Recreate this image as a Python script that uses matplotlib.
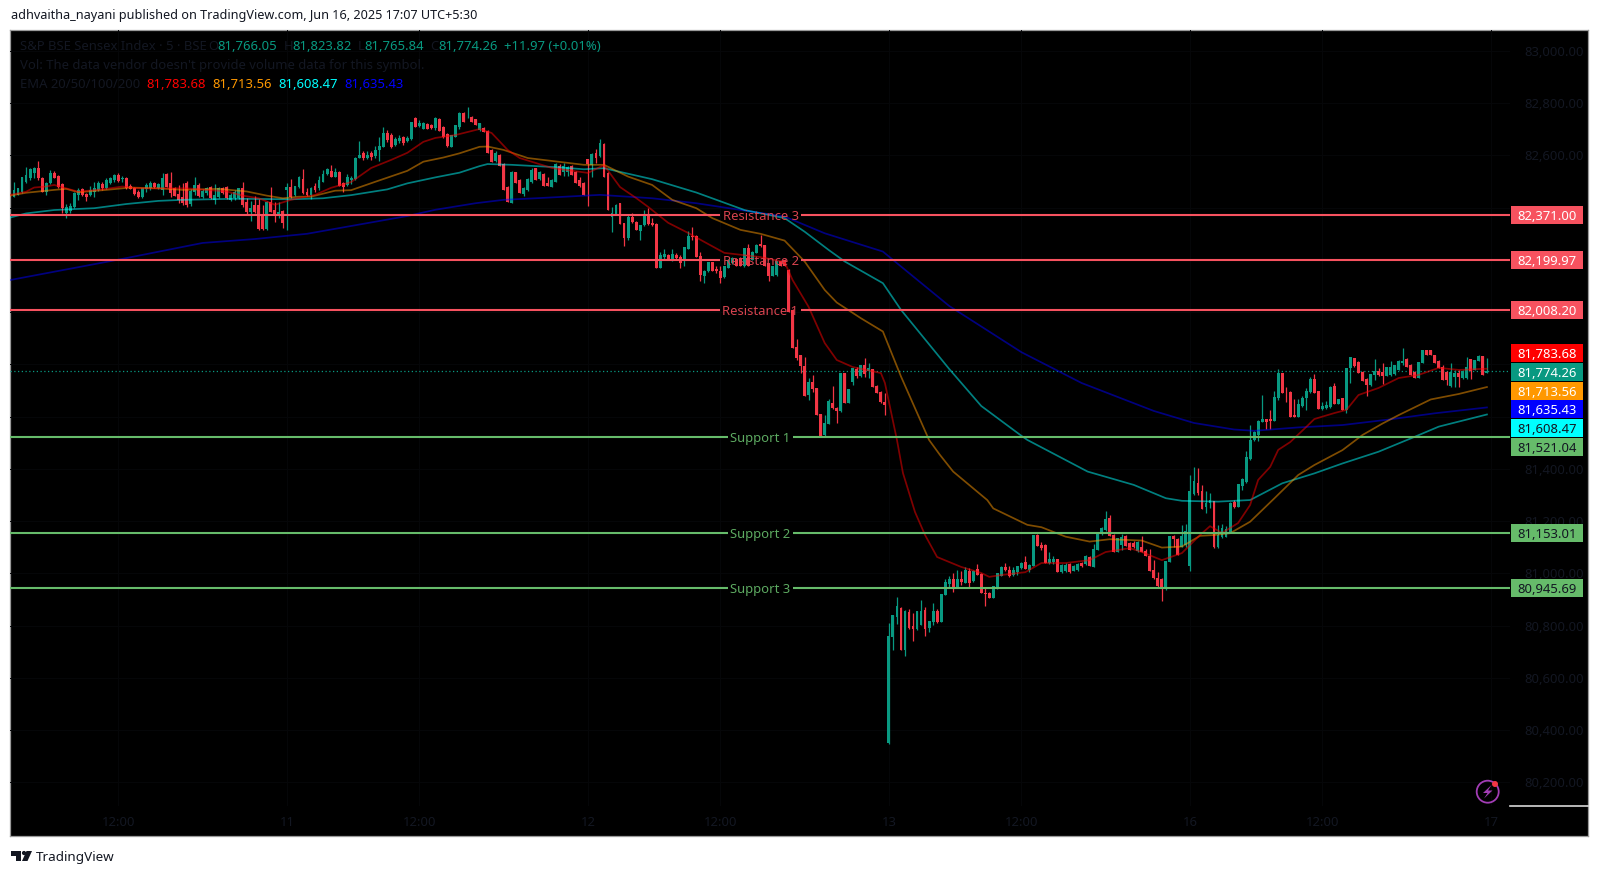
import matplotlib
matplotlib.use("Agg")
import matplotlib.pyplot as plt
from matplotlib.patches import Rectangle, Circle, Polygon

FONT = "Noto Sans"
plt.rcParams["font.family"] = [FONT, "DejaVu Sans"]

# ---------- candles (open, high, low, close), one list per session ----------
session_10 = [
(82442,82500,82442,82468),(82449,82477,82449,82474),(82461,82519,82455,82519),(82497,82554,82493,82525),
(82512,82551,82506,82548),(82532,82557,82512,82553),(82553,82580,82506,82512),(82515,82516,82461,82461),
(82461,82497,82449,82496),(82493,82544,82489,82532),(82532,82540,82512,82512),(82523,82525,82477,82480),
(82489,82493,82378,82398),(82378,82413,82362,82404),(82387,82417,82378,82406),(82401,82460,82400,82458),
(82449,82474,82429,82468),(82470,82474,82446,82449),(82452,82457,82426,82442),(82449,82484,82446,82468),
(82461,82500,82442,82474),(82468,82502,82465,82493),(82492,82497,82468,82474),(82474,82512,82472,82506),
(82493,82516,82489,82512),(82506,82529,82500,82525),(82525,82532,82500,82502),(82509,82520,82500,82515),
(82515,82516,82472,82474),(82484,82490,82470,82472),(82477,82480,82449,82451),(82461,82468,82438,82442),
(82442,82477,82438,82474),(82472,82493,82461,82487),(82474,82502,82468,82493),(82496,82500,82477,82480),
(82474,82493,82472,82489),(82468,82532,82449,82513),(82529,82534,82480,82481),(82494,82538,82442,82455),
(82474,82480,82444,82446),(82453,82487,82417,82430),(82442,82494,82411,82417),(82493,82502,82404,82411),
(82413,82470,82407,82462),(82459,82516,82449,82487),(82487,82494,82442,82446),(82442,82470,82436,82462),
(82455,82480,82450,82477),(82478,82482,82434,82436),(82430,82491,82414,82449),(82442,82480,82438,82474),
(82474,82480,82454,82458),(82478,82482,82434,82436),(82430,82455,82425,82449),(82436,82466,82430,82459),
(82436,82476,82433,82474),(82477,82500,82404,82411),(82423,82436,82375,82385),(82385,82427,82349,82398),
(82410,82446,82379,82385),(82411,82434,82315,82317),(82372,82411,82315,82317),(82317,82425,82315,82423),
(82423,82478,82385,82385),(82391,82423,82347,82372),(82370,82423,82360,82385),(82388,82390,82324,82340),
]
session_11 = [
(82468,82496,82315,82480),(82480,82510,82436,82442),(82449,82483,82445,82483),(82480,82522,82476,82519),
(82508,82547,82452,82455),(82461,82474,82445,82448),(82448,82478,82432,82474),(82483,82493,82461,82467),
(82474,82521,82467,82506),(82500,82544,82499,82527),(82529,82550,82525,82547),(82541,82563,82519,82519),
(82519,82550,82516,82535),(82538,82540,82482,82483),(82493,82499,82461,82478),(82487,82527,82483,82516),
(82506,82521,82490,82512),(82508,82595,82505,82592),(82592,82655,82592,82601),(82610,82617,82582,82592),
(82592,82618,82585,82601),(82610,82618,82582,82595),(82599,82636,82592,82621),(82621,82669,82580,82636),
(82633,82710,82631,82684),(82684,82697,82652,82659),(82678,82684,82627,82633),(82640,82669,82637,82661),
(82656,82678,82646,82668),(82669,82674,82640,82649),(82656,82675,82650,82665),(82663,82727,82660,82726),
(82742,82748,82707,82710),(82712,82735,82707,82725),(82703,82727,82700,82723),(82720,82725,82700,82703),
(82716,82720,82700,82704),(82704,82746,82697,82742),(82739,82742,82692,82693),(82707,82712,82667,82669),
(82681,82684,82633,82636),(82633,82680,82632,82678),(82672,82717,82670,82716),(82707,82765,82703,82763),
(82763,82765,82728,82729),(82746,82784,82744,82748),(82748,82750,82729,82729),(82738,82740,82716,82716),
(82697,82725,82695,82725),(82706,82710,82688,82688),(82695,82697,82609,82611),(82621,82625,82574,82574),
(82577,82615,82575,82609),(82602,82606,82558,82560),(82567,82570,82468,82468),(82481,82483,82420,82420),
(82418,82540,82417,82538),(82535,82538,82496,82496),(82507,82509,82456,82456),(82453,82478,82443,82475),
(82468,82512,82465,82509),(82500,82551,82496,82545),(82551,82553,82506,82506),(82509,82540,82507,82538),
(82530,82533,82484,82484),(82496,82517,82483,82484),(82481,82510,82479,82507),(82500,82570,82498,82568),
(82558,82567,82526,82526),(82538,82570,82523,82558),(82538,82560,82523,82555),(82558,82562,82526,82526),
(82538,82542,82496,82496),(82504,82517,82481,82484),(82496,82498,82447,82447),
]
session_12 = [
(82587,82587,82407,82568),(82564,82609,82516,82607),(82609,82624,82570,82590),(82596,82662,82593,82647),
(82644,82648,82519,82519),(82532,82535,82392,82392),(82366,82402,82306,82381),(82372,82414,82372,82411),
(82417,82419,82338,82338),(82340,82341,82254,82283),(82283,82376,82277,82366),(82366,82379,82343,82347),
(82347,82350,82315,82315),(82309,82334,82277,82334),(82334,82391,82330,82376),(82375,82398,82334,82337),
(82343,82360,82330,82334),(82338,82340,82171,82171),(82171,82232,82170,82219),(82213,82241,82204,82222),
(82219,82222,82200,82200),(82200,82241,82196,82222),(82219,82228,82200,82206),(82213,82219,82171,82190),
(82194,82251,82175,82249),(82242,82309,82241,82292),(82292,82325,82277,82287),(82292,82295,82213,82213),
(82215,82232,82120,82143),(82139,82162,82111,82159),(82156,82193,82154,82191),(82191,82193,82159,82159),
(82166,82175,82149,82156),(82159,82175,82111,82132),(82134,82178,82132,82175),(82171,82205,82168,82200),
(82187,82212,82185,82206),(82203,82208,82178,82178),(82206,82212,82178,82178),(82175,82245,82172,82245),
(82245,82261,82175,82175),(82200,82235,82198,82232),(82228,82260,82226,82258),(82261,82296,82251,82254),
(82256,82258,82178,82178),(82187,82188,82120,82139),(82139,82176,82137,82175),(82143,82195,82140,82194),
(82194,82196,82178,82178),(82200,82203,82178,82178),(82162,82165,82002,82002),(82009,82012,81862,81862),
(81868,81898,81817,81824),(81836,81837,81766,81794),(81794,81827,81681,81681),(81683,81747,81662,81734),
(81734,81760,81696,81706),(81709,81711,81607,81607),(81609,81611,81527,81527),(81530,81607,81528,81575),
(81572,81667,81571,81660),(81654,81719,81630,81632),(81632,81639,81575,81622),(81620,81768,81618,81766),
(81766,81768,81654,81654),(81654,81705,81653,81705),(81732,81788,81722,81785),(81782,81792,81747,81754),
(81754,81798,81751,81798),(81798,81826,81753,81764),(81776,81805,81747,81785),(81782,81784,81715,81715),
(81719,81720,81689,81690),(81696,81699,81654,81658),(81658,81690,81607,81645),
]
session_13 = [
(80350,80809,80347,80761),(80758,80841,80707,80841),(80835,80909,80807,80876),(80867,80870,80707,80707),
(80707,80860,80684,80858),(80852,80864,80789,80790),(80799,80850,80742,80786),(80787,80857,80785,80856),
(80803,80898,80801,80857),(80860,80870,80761,80786),(80793,80818,80777,80818),(80813,80888,80803,80856),
(80856,80864,80809,80813),(80814,80921,80813,80921),(80918,80978,80917,80967),(80960,80990,80943,80978),
(80978,81001,80930,80946),(80946,81013,80943,80978),(80978,81011,80956,80969),(80965,81024,80962,81013),
(81009,81020,80947,80965),(80971,81012,80969,81010),(81016,81035,80994,80994),(80998,81000,80924,80924),
(80927,80943,80876,80923),(80927,80930,80907,80907),(80907,80953,80906,80952),(80943,81001,80942,81000),
(80992,81028,80990,81026),(81026,81039,81010,81013),(81013,81028,80988,80990),(80994,81026,80990,81013),
(81006,81030,80995,81028),(81020,81044,81018,81041),(81045,81067,81016,81017),(81013,81036,81007,81032),
(81029,81148,81027,81147),(81147,81150,81105,81105),(81109,81122,81090,81096),(81109,81112,81041,81041),
(81039,81083,81036,81054),(81042,81067,81036,81054),(81054,81056,81007,81007),(81007,81036,81000,81033),
(81010,81039,81006,81033),(81036,81039,81000,81007),(81011,81034,81009,81029),(81013,81040,81011,81038),
(81040,81043,81024,81028),(81035,81070,81033,81068),(81064,81066,81029,81029),(81026,81113,81025,81094),
(81090,81155,81088,81154),(81151,81176,81148,81173),(81166,81239,81164,81209),(81211,81224,81143,81143),
(81147,81150,81084,81084),(81084,81135,81082,81134),(81109,81150,81090,81141),(81143,81146,81105,81105),
(81118,81122,81090,81090),(81118,81125,81098,81100),(81086,81125,81084,81122),(81100,81143,81081,81084),
(81087,81092,81065,81067),(81067,81092,81010,81011),(81013,81052,80979,80982),(80984,81007,80950,80952),
(80979,80983,80895,80943),(80940,81049,80938,81048),(81045,81145,81043,81143),(81143,81147,81100,81131),
(81132,81135,81071,81071),(81103,81186,81100,81143),(81109,81188,81103,81163),
]
session_16 = [
(81029,81377,81010,81316),(81304,81406,81300,81352),(81348,81403,81300,81309),(81316,81340,81247,81247),
(81253,81316,81230,81269),(81269,81307,81249,81281),(81277,81279,81098,81100),(81100,81187,81097,81147),
(81138,81188,81135,81173),(81141,81180,81138,81169),(81160,81272,81158,81271),(81275,81281,81250,81253),
(81256,81343,81254,81342),(81335,81367,81320,81360),(81351,81469,81345,81447),(81437,81568,81434,81511),
(81511,81546,81508,81543),(81530,81587,81508,81583),(81581,81683,81581,81590),(81591,81591,81552,81581),
(81590,81626,81552,81585),(81585,81698,81583,81674),(81670,81781,81664,81766),(81766,81768,81690,81690),
(81696,81712,81658,81693),(81696,81698,81600,81600),(81606,81667,81597,81598),(81600,81668,81598,81649),
(81641,81680,81639,81670),(81670,81709,81626,81698),(81696,81753,81690,81743),(81743,81762,81691,81692),
(81698,81700,81628,81628),(81628,81658,81626,81641),(81632,81661,81630,81645),(81636,81716,81634,81715),
(81718,81728,81648,81649),(81649,81667,81648,81667),(81670,81672,81626,81626),(81626,81785,81613,81785),
(81785,81830,81730,81827),(81823,81825,81789,81794),(81808,81812,81766,81766),(81772,81775,81738,81738),
(81743,81747,81679,81721),(81721,81764,81719,81762),(81760,81820,81740,81776),(81776,81785,81756,81760),
(81770,81804,81725,81757),(81757,81792,81755,81792),(81760,81815,81757,81792),(81763,81798,81761,81798),
(81779,81816,81777,81815),(81804,81864,81798,81815),(81821,81823,81792,81792),(81798,81800,81760,81760),
(81772,81775,81749,81749),(81749,81811,81747,81811),(81807,81856,81805,81855),(81855,81857,81836,81836),
(81855,81857,81836,81836),(81836,81838,81804,81804),(81815,81817,81785,81785),(81792,81798,81741,81741),
(81772,81773,81721,81741),(81718,81804,81715,81772),(81753,81779,81715,81766),(81766,81779,81713,81753),
(81747,81778,81745,81776),(81747,81827,81743,81789),(81819,81820,81743,81776),(81779,81817,81777,81817),
(81814,81836,81812,81834),(81832,81834,81759,81759),(81766.05,81823.82,81765.84,81774.26),
]
first_bar = -218

# ---------- moving averages: (bar, price) ----------
ema20_points = [(-219,82449),(-215,82461),(-213,82477),(-210,82481),(-208,82487),(-205,82474),(-202,82461),
(-195,82472),(-191,82481),(-187,82474),(-175,82474),(-165,82462),(-161,82446),(-157,82436),(-153,82411),
(-149,82430),(-147,82437),(-143,82449),(-139,82476),(-134,82498),(-129,82552),(-124,82583),(-120,82610),
(-116,82652),(-113,82667),(-108,82678),(-102,82701),(-99,82686),(-95,82621),(-92,82590),(-88,82571),
(-84,82552),(-75,82533),(-71,82563),(-67,82479),(-63,82437),(-60,82403),(-55,82342),(-50,82303),(-46,82269),
(-41,82227),(-32,82211),(-26,82192),(-24,82123),(-20,82020),(-16,81882),(-13,81817),(-9,81790),(-2,81767),
(-1,81729),(2,81511),(3.5,81384),(6.5,81235),(9,81147),(12,81063),(18,81025),(23,81002),(25,80987),(28,80994),
(34,81005),(38,81040),(44,81040),(50,81051),(54,81082),(60,81097),(63,81082),(68,81051),(73,81078),(77.5,81147),
(80,81181),(83,81155),(87,81193),(90,81262),(92,81358),(95,81408),(97,81473),(100,81503),(104,81561),(106,81591),
(111,81614),(114,81626),(117,81683),(122,81710),(127,81748),(132,81760),(137,81787),(142,81779),(149,81783.68)]
ema50_points = [(-219,82446),(-215,82457),(-208,82468),(-205,82472),(-202,82459),(-195,82468),(-189,82477),
(-182,82474),(-176,82468),(-167,82472),(-160,82462),(-155,82446),(-151,82436),(-147,82442),(-144,82442),
(-138,82465),(-134,82467),(-128,82499),(-120,82541),(-116,82576),(-111,82592),(-107,82608),(-102,82633),
(-100,82634),(-96,82621),(-90,82590),(-83,82577),(-76,82564),(-71,82564),(-65,82519),(-59,82487),(-54,82430),
(-48,82398),(-44,82360),(-37,82315),(-32,82300),(-26,82274),(-21,82194),(-16,82085),(-13,82037),(-7,81977),
(-1.5,81926),(3,81754),(10,81511),(12.7,81454),(16,81390),(24.5,81281),(26,81249),(34.5,81186),(38,81177),
(44,81141),(50,81122),(55,81131),(63,81126),(68,81099),(73,81103),(77.5,81144),(81,81147),(85,81154),(90,81198),
(96,81287),(102,81377),(106,81415),(113,81472),(118,81530),(123,81574),(127,81606),(131,81636),(135,81666),
(142,81687),(149,81713.56)]
ema100_points = [(-219,82362),(-215,82378),(-208,82391),(-198,82398),(-190,82414),(-182,82426),(-176,82430),
(-163,82434),(-155,82433),(-149,82432),(-141,82436),(-134,82448),(-125,82470),(-120,82493),(-113,82516),
(-107,82534),(-102,82559),(-100,82567),(-94,82564),(-83,82555),(-76,82547),(-71,82551),(-59,82509),(-48,82458),
(-36,82391),(-26,82360),(-21,82308),(-15,82238),(-11,82194),(-1.5,82111),(3,82009),(15,81783),(23,81641),
(33,81527),(34.5,81511),(49.5,81390),(61,81339),(69,81288),(73,81278),(82,81275),(90,81281),(98,81345),
(106,81383),(113,81421),(122,81466),(131,81523),(137,81562),(149,81608.47)]
ema200_points = [(-219,82123),(-191,82204),(-171,82265),(-158,82280),(-145,82300),(-120,82368),(-113,82392),
(-103,82417),(-96,82430),(-88,82436),(-72,82449),(-59,82436),(-48,82417),(-36,82389),(-26,82366),(-16,82302),
(-1.5,82232),(3,82175),(15,82024),(33,81847),(48,81729),(66,81622),(76,81576),(86,81551),(91,81546),(102,81559),
(113,81568),(125,81590),(136,81613),(149,81635.43)]

# ---------- levels, axis values and texts ----------
resistance_levels = [82371.00, 82199.97, 82008.20]
resistance_names = ["Resistance 3", "Resistance 2", "Resistance 1"]
support_levels = [81521.04, 81153.01, 80945.69]
support_names = ["Support 1", "Support 2", "Support 3"]
last_close = 81774.26
price_ticks = [83000, 82800, 82600, 82400, 82200, 82000, 81800, 81600, 81400, 81200, 81000, 80800, 80600, 80400, 80200]
visible_price_labels = [83000, 82800, 82600, 81400, 81200, 81000, 80800, 80600, 80400, 80200]
time_tick_bars = [-192, -150, -117, -75, -42, 0, 33, 75, 108, 150]
time_tick_labels = ["12:00", "11", "12:00", "12", "12:00", "13", "12:00", "16", "12:00", "17"]
tag_values = [82371.00, 82199.97, 82008.20, 81783.68, 81774.26, 81713.56, 81635.43, 81608.47, 81521.04, 81153.01, 80945.69]
tag_centres = [82371, 82200, 82008, 81845, 81772, 81700, 81629, 81558, 81485, 81153, 80946]

# ---------- layout helpers ----------
W, H = 1600, 876
def rect(x0, y0, x1, y1):
    return [x0 / W, 1 - y1 / H, (x1 - x0) / W, (y1 - y0) / H]

TXT = "#131722"
GREEN, RED = "#089981", "#F23645"
RES, SUP = "#F7525F", "#66BB6A"
tag_bg = [RES, RES, RES, "#FF0000", GREEN, "#FF9800", "#0000FF", "#00FFFF", SUP, SUP, SUP]
tag_fg = ["white"] * 8 + [TXT] * 3
tag_fg[7] = TXT
FS = 9.4

fig = plt.figure(figsize=(16, 8.76), dpi=100, facecolor="white")

outer = fig.add_axes(rect(10, 30, 1588, 836), facecolor="black", zorder=0)
outer.set_xticks([]); outer.set_yticks([])
for s in outer.spines.values():
    s.set_color("#9a9a9a"); s.set_linewidth(0.9)

ax = fig.add_axes(rect(10, 30, 1510, 806), facecolor="none", zorder=1)
XLIM = (-219, 154.75)
YLIM = (80110, 83080)
ax.set_xlim(*XLIM); ax.set_ylim(*YLIM)
for s in ax.spines.values():
    s.set_visible(False)
ax.set_xticks(time_tick_bars, time_tick_labels)
ax.set_yticks(price_ticks)
ax.tick_params(axis="x", length=0, pad=7, labelsize=FS, labelcolor=TXT)
ax.tick_params(axis="y", length=0, labelleft=False)
ax.grid(True, color="#060709", lw=0.7)
ax.set_axisbelow(True)

# candles
all_candles = session_10 + session_11 + session_12 + session_13 + session_16
bars = [first_bar + i for i in range(len(all_candles))]
opens = [c[0] for c in all_candles]
highs = [c[1] for c in all_candles]
lows = [c[2] for c in all_candles]
closes = [c[3] for c in all_candles]
colors = [GREEN if c >= o else RED for o, c in zip(opens, closes)]
ax.vlines(bars, lows, highs, colors=colors, lw=0.9, zorder=3)
ax.bar(bars, [c - o for o, c in zip(opens, closes)], bottom=opens, width=0.72, color=colors, lw=0, zorder=3)

# EMAs
for pts, col in ((ema200_points, "#0000FF"), (ema100_points, "#00FFFF"), (ema50_points, "#FF9800"), (ema20_points, "#FF0000")):
    ax.plot([p[0] for p in pts], [p[1] for p in pts], color=col, alpha=0.5, lw=1.25, zorder=4, solid_joinstyle="round")

# last price
ax.axhline(last_close, color=GREEN, lw=0.9, ls=(0, (1, 2)), zorder=2)

# levels, broken around their names
for levels, names, col, tcol, gap, in (
    (resistance_levels, resistance_names, RES, "#D8434F", (-42, -22)),
    (support_levels, support_names, SUP, "#5DAA61", (-40, -24)),
):
    for lv, nm in zip(levels, names):
        ax.hlines(lv, XLIM[0], gap[0], color=col, lw=1.5, zorder=5)
        ax.hlines(lv, gap[1], XLIM[1], color=col, lw=1.5, zorder=5)
        ax.text(-32, lv, nm, color=tcol, fontsize=FS, ha="center", va="center_baseline", zorder=6)

# price scale
pax = fig.add_axes(rect(1510, 30, 1588, 806), facecolor="none", zorder=2)
pax.set_xlim(1510, 1588); pax.set_ylim(*YLIM)
pax.set_xticks([])
pax.set_yticks(visible_price_labels, [f"{v:,.2f}" for v in visible_price_labels])
pax.tick_params(axis="y", length=0, direction="in", pad=-53, labelsize=FS, labelcolor=TXT)
for lb in pax.get_yticklabels():
    lb.set_ha("right")
pax.set_axisbelow(True)
for s in pax.spines.values():
    s.set_visible(False)
tag_height = 69
for val, cen, bg, fg in zip(tag_values, tag_centres, tag_bg, tag_fg):
    pax.add_patch(Rectangle((1511, cen - tag_height / 2), 72, tag_height, fc=bg, ec="none", zorder=3))
    pax.text(1547, cen, f"{val:,.2f}", color=fg, fontsize=FS, ha="center", va="center_baseline", zorder=4)

# overlay in pixel coordinates: header, legend, footer, icon
ov = fig.add_axes([0, 0, 1, 1], facecolor="none", zorder=3)
ov.set_xlim(0, W); ov.set_ylim(H, 0); ov.axis("off")

ov.text(11, 16, "adhvaitha_nayani published on TradingView.com, Jun 16, 2025 17:07 UTC+5:30",
        color=TXT, fontsize=9.1, va="center", ha="left")
legend_rows = [
    (46.7, [(20.5, "S&P BSE Sensex Index · 5 · BSE", TXT), (208.5, "O", TXT), (217.6, "81,766.05", GREEN),
            (283.6, "H", TXT), (292, "81,823.82", GREEN), (358, "L", TXT), (364, "81,765.84", GREEN),
            (430, "C", TXT), (438, "81,774.26", GREEN), (504, "+11.97 (+0.01%)", GREEN)]),
    (65.7, [(20.5, "Vol: The data vendor doesn't provide volume data for this symbol.", TXT)]),
    (84.7, [(20.5, "EMA 20/50/100/200", TXT), (146, "81,783.68", "#FF0000"), (212, "81,713.56", "#FF9800"),
            (278, "81,608.47", "#00FFFF"), (344, "81,635.43", "#0000FF")]),
]
for y, parts in legend_rows:
    for x, s, c in parts:
        ov.text(x, y, s, color=c, fontsize=FS, va="center", ha="left")

ov.plot([1510, 1588], [806, 806], color="#d8d8d8", lw=1.2)

# TradingView logo
ov.add_patch(Polygon([(11, 851), (21, 851), (21, 861), (16, 861), (16, 855.5), (11, 855.5)], fc=TXT, ec="none"))
ov.add_patch(Circle((24, 853), 2.1, fc=TXT, ec="none"))
ov.add_patch(Polygon([(26.5, 851), (32, 851), (27.5, 861), (22, 861)], fc=TXT, ec="none"))
ov.text(36, 857.5, "TradingView", color=TXT, fontsize=9.7, va="center", ha="left")

# lightning icon
ov.add_patch(Circle((1487.7, 791.7), 11, fc="none", ec="#A23DB5", lw=1.3))
ov.add_patch(Polygon([(1491.5, 785), (1483, 793), (1487.5, 793), (1484, 798.5), (1492.5, 790.5), (1488, 790.5)],
                     fc="#A23DB5", ec="none"))
ov.add_patch(Circle((1495, 784), 3, fc="#F23645", ec="none"))

fig.savefig("out.png", dpi=100)
